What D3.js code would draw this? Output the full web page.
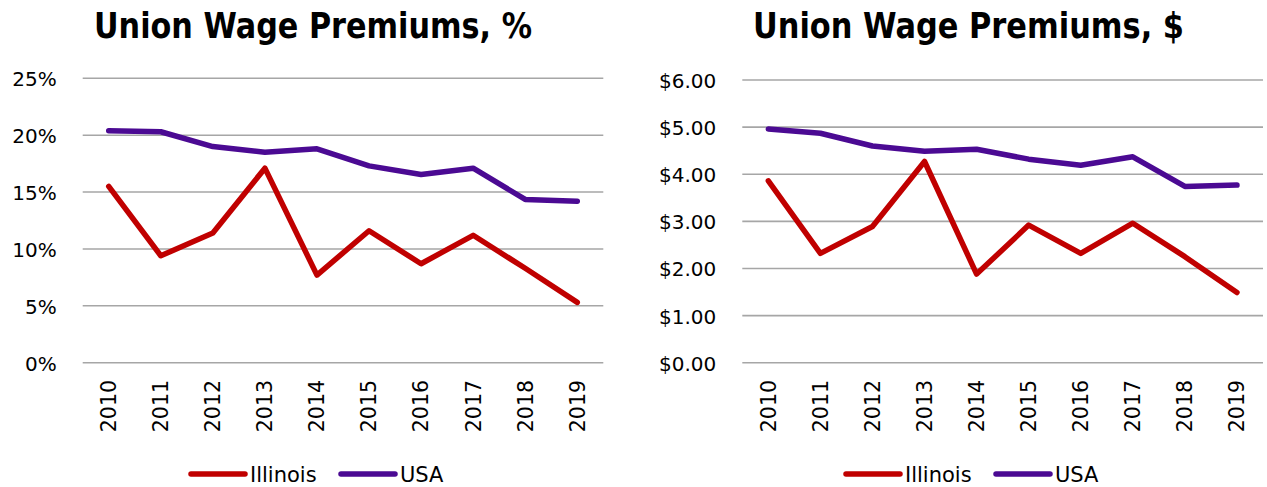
<!DOCTYPE html>
<html>
<head>
<meta charset="utf-8">
<script src="https://cdn.jsdelivr.net/npm/d3@7/dist/d3.min.js"></script>
<style>
  html, body { margin: 0; padding: 0; background: #fff; }
  svg { display: block; }
</style>
</head>
<body>
<svg id="chart" width="1267" height="487"></svg>
<script>
// Years on the x axis
const years = ["2010", "2011", "2012", "2013", "2014", "2015", "2016", "2017", "2018", "2019"];

// Union wage premium, percent
const illinoisPct = [15.5, 9.4, 11.4, 17.1, 7.7, 11.6, 8.7, 11.2, 8.3, 5.3];
const usaPct      = [20.4, 20.3, 19.0, 18.5, 18.8, 17.3, 16.55, 17.1, 14.35, 14.2];

// Union wage premium, dollars
const illinoisUsd = [3.86, 2.32, 2.89, 4.27, 1.88, 2.92, 2.32, 2.96, 2.25, 1.49];
const usaUsd      = [4.96, 4.87, 4.60, 4.49, 4.53, 4.32, 4.19, 4.37, 3.74, 3.77];

// Tick values
const pctTicks = [0, 5, 10, 15, 20, 25];
const usdTicks = [0, 1, 2, 3, 4, 5, 6];

const seriesNames = ["Illinois", "USA"];
const seriesColors = ["#C00000", "#4B0A93"];

const svg = d3.select("#chart");

/**
 * Draw one line panel
 */
function drawPanel(opts) {
    const g = svg.append("g");

    const x = d3.scaleBand()
        .domain(years)
        .range([opts.left, opts.right]);

    const y = d3.scaleLinear()
        .domain([0, d3.max(opts.ticks)])
        .range([opts.bottom, opts.top]);

    // Title
    g.append("text")
        .attr("x", opts.titleX)
        .attr("y", 38)
        .attr("textLength", opts.titleW)
        .attr("lengthAdjust", "spacingAndGlyphs")
        .style("font-family", "'DejaVu Sans', sans-serif")
        .style("font-weight", "bold")
        .style("font-size", "36px")
        .style("fill", "#000")
        .text(opts.title);

    // Gridlines
    g.selectAll(".grid")
        .data(opts.ticks)
        .enter().append("line")
        .attr("class", "grid")
        .attr("x1", opts.left)
        .attr("x2", opts.right)
        .attr("y1", d => y(d))
        .attr("y2", d => y(d))
        .style("stroke", "#A6A6A6")
        .style("stroke-width", 1.6);

    // Y tick labels
    g.selectAll(".ylab")
        .data(opts.ticks)
        .enter().append("text")
        .attr("class", "ylab")
        .attr("x", opts.left - 26)
        .attr("y", d => y(d) + 8)
        .attr("text-anchor", "end")
        .style("font-family", "'DejaVu Sans', sans-serif")
        .style("font-size", "20px")
        .style("fill", "#000")
        .text(opts.fmt);

    // X tick labels, rotated
    g.selectAll(".xlab")
        .data(years)
        .enter().append("text")
        .attr("class", "xlab")
        .attr("transform", d => `translate(${x(d) + x.bandwidth() / 2},380) rotate(-90)`)
        .attr("dy", "0.36em")
        .attr("text-anchor", "end")
        .style("font-family", "'DejaVu Sans', sans-serif")
        .style("font-size", "20.5px")
        .style("fill", "#000")
        .text(d => d);

    // Lines
    const line = d3.line()
        .x((d, i) => x(years[i]) + x.bandwidth() / 2)
        .y(d => y(d));

    g.selectAll(".series")
        .data(opts.series)
        .enter().append("path")
        .attr("class", "series")
        .attr("d", d => line(d))
        .style("fill", "none")
        .style("stroke", (d, i) => seriesColors[i])
        .style("stroke-width", 5.5)
        .style("stroke-linejoin", "round")
        .style("stroke-linecap", "round");

    // Legend
    const leg = g.selectAll(".legend")
        .data(seriesNames)
        .enter().append("g")
        .attr("class", "legend")
        .attr("transform", (d, i) => `translate(${opts.legendX[i]},474)`);

    leg.append("line")
        .attr("x1", 0)
        .attr("x2", 54)
        .style("stroke", (d, i) => seriesColors[i])
        .style("stroke-width", 5.5)
        .style("stroke-linecap", "round");

    leg.append("text")
        .attr("x", 59)
        .attr("y", 8)
        .style("font-family", "'DejaVu Sans', sans-serif")
        .style("font-size", "21px")
        .style("fill", "#000")
        .text(d => d);
}

drawPanel({
    title: "Union Wage Premiums, %",
    titleX: 94, titleW: 438,
    left: 82.7, right: 603.3, top: 78.3, bottom: 362.7,
    ticks: pctTicks,
    fmt: d => d + "%",
    series: [illinoisPct, usaPct],
    legendX: [191, 341]
});

drawPanel({
    title: "Union Wage Premiums, $",
    titleX: 753, titleW: 431,
    left: 742.3, right: 1263, top: 80, bottom: 362.7,
    ticks: usdTicks,
    fmt: d => "$" + d.toFixed(2),
    series: [illinoisUsd, usaUsd],
    legendX: [846, 996]
});
</script>
</body>
</html>
